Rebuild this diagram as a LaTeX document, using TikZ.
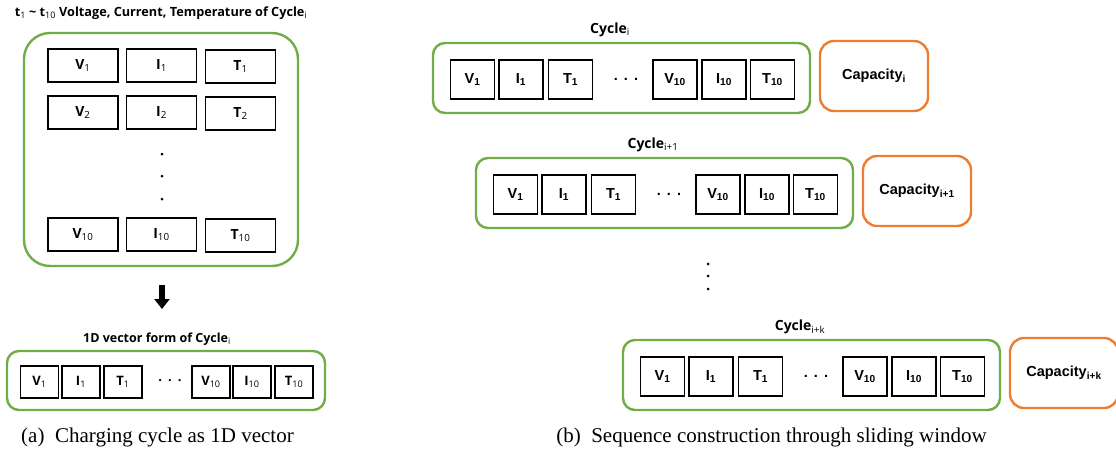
\documentclass[tikz,border=0pt]{standalone}
\usepackage{fontspec}
\setmainfont{Liberation Serif}
\newfontfamily\mgfont{Open Sans}
\newfontfamily\arfont{Liberation Sans}
\usetikzlibrary{arrows.meta}
\definecolor{grn}{HTML}{70AD47}
\definecolor{org}{HTML}{ED7D31}
\newcommand\sbs[1]{\textsubscript{\mdseries #1}}
\newcommand\sbb[1]{\textsubscript{#1}}
\tikzset{
  greenbox/.style={draw=grn,line width=2.4pt,rounded corners=#1},
  greenbox/.default=12pt,
  orangebox/.style={draw=org,line width=2.4pt,rounded corners=14pt,minimum width=108pt,minimum height=70pt,inner sep=0pt,font=\arfont\bfseries\fontsize{14.5}{16}\selectfont},
  gridcell/.style={draw=black,line width=1.4pt,minimum width=70pt,minimum height=33pt,inner sep=0pt,font=\mgfont\bfseries\fontsize{14}{16}\selectfont},
  veccell/.style={draw=black,line width=1.4pt,minimum width=38pt,minimum height=32pt,inner sep=0pt,font=\mgfont\bfseries\fontsize{13}{15}\selectfont},
  seqcell/.style={draw=black,line width=1.4pt,minimum width=44pt,minimum height=39pt,inner sep=0pt,font=\arfont\bfseries\fontsize{14.5}{16}\selectfont},
  headlabel/.style={inner sep=0pt,font=\mgfont\bfseries\fontsize{#1}{14}\selectfont},
  caption/.style={inner sep=0pt,font=\fontsize{21}{24}\selectfont},
  dotmark/.style={circle,fill=black,inner sep=0pt,minimum size=3pt},
}
% one row of the sliding window: #1 name, #2 dx, #3 dy, #4 subscript
\newcommand\cyclerow[4]{%
  \begin{scope}[shift={(#2,#3)}]
    \node[headlabel=14] (#1lab) at (610,30) {Cycle\sbs{#4}};
    \node[greenbox,minimum width=377pt,minimum height=70pt] (#1box) at (621.5,78) {};
    \node[seqcell] (#1v1) at (472.5,79.5) {V\sbb{1}};
    \node[seqcell] (#1i1) at (521,79.5) {I\sbb{1}};
    \node[seqcell] (#1t1) at (570.5,79.5) {T\sbb{1}};
    \node[inner sep=0pt,font=\arfont\bfseries\fontsize{14.5}{16}\selectfont] (#1dots) at (626,79) {.\hspace{6pt}.\hspace{6pt}.};
    \node[seqcell] (#1v10) at (675,79.5) {V\sbb{10}};
    \node[seqcell] (#1i10) at (724,79.5) {I\sbb{10}};
    \node[seqcell] (#1t10) at (772.5,79.5) {T\sbb{10}};
    \node[orangebox] (#1cap) at (874,76) {Capacity\sbb{#4}};
  \end{scope}}
\begin{document}
\begin{tikzpicture}[x=1pt,y=-1pt]
\useasboundingbox (0,0) rectangle (1116,453);
% ---------- (a) ----------
\node[headlabel=12.7] (title) at (161,13) {t\sbs{1} \textasciitilde{} t\sbs{10} Voltage, Current, Temperature of Cycle\sbs{i}};
\node[greenbox=26pt,minimum width=274pt,minimum height=233pt] (mat) at (161,149.5) {};
\node[gridcell] (gv1) at (83,65.5) {V\sbs{1}};
\node[gridcell] (gi1) at (161.5,65.5) {I\sbs{1}};
\node[gridcell] (gt1) at (240.5,66.5) {T\sbs{1}};
\node[gridcell] (gv2) at (83,112.5) {V\sbs{2}};
\node[gridcell] (gi2) at (161.5,112.5) {I\sbs{2}};
\node[gridcell] (gt2) at (240.5,113.5) {T\sbs{2}};
\node[dotmark] (gd1) at (162,154) {};
\node[dotmark] (gd2) at (162,176) {};
\node[dotmark] (gd3) at (162,199) {};
\node[gridcell] (gv10) at (83,234.5) {V\sbs{10}};
\node[gridcell] (gi10) at (161.5,234.5) {I\sbs{10}};
\node[gridcell] (gt10) at (240.5,235.5) {T\sbs{10}};
\coordinate (arrtop) at (162,285);
\coordinate (arrbot) at (162,309);
\draw[line width=6pt,-{Triangle[length=10pt,width=15pt]}] (arrtop) -- (arrbot);
\node[headlabel=12.5] (veclab) at (157,339) {1D vector form of Cycle\sbs{i}};
\node[greenbox,minimum width=318pt,minimum height=59pt] (vec) at (166,380.5) {};
\node[veccell] (vv1) at (39.5,382) {V\sbs{1}};
\node[veccell] (vi1) at (81,382) {I\sbs{1}};
\node[veccell] (vt1) at (123,382) {T\sbs{1}};
\node[inner sep=0pt,font=\mgfont\bfseries\fontsize{13}{15}\selectfont] (vdots) at (170,381) {.\hspace{6pt}.\hspace{6pt}.};
\node[veccell] (vv10) at (211,382) {V\sbs{10}};
\node[veccell] (vi10) at (252,382) {I\sbs{10}};
\node[veccell] (vt10) at (294,382) {T\sbs{10}};
\node[caption] (capa) at (157.5,437) {(a)\hspace{0.5em}Charging cycle as 1D vector};
% ---------- (b) ----------
\cyclerow{ra}{0}{0}{i}
\cyclerow{rb}{43}{115}{i+1}
\cyclerow{rc}{190}{297}{i+k}
\node[dotmark] (sd1) at (708,264) {};
\node[dotmark] (sd2) at (708,276) {};
\node[dotmark] (sd3) at (708,289) {};
\node[caption] (capb) at (771.5,437) {(b)\hspace{0.5em}Sequence construction through sliding window};
\end{tikzpicture}
\end{document}
